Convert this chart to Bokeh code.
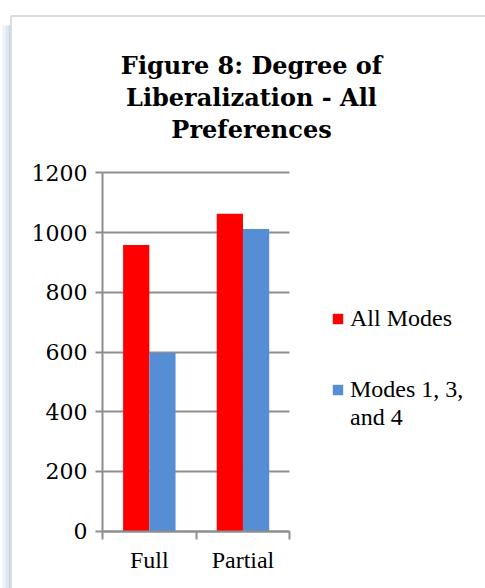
from bokeh.plotting import figure
from bokeh.models import FixedTicker, Label, BoxAnnotation, Legend, LegendItem
from bokeh.embed import file_html
from bokeh.resources import INLINE

categories = ["Full", "Partial"]
series_names = ["All Modes", "Modes 1, 3,", "and 4"]
all_modes = [958, 1063]
modes_134 = [597, 1012]
y_ticks = [0, 200, 400, 600, 800, 1000, 1200]
title_lines = ["Figure 8: Degree of", "Liberalization - All", "Preferences"]

RED = "#FF0000"
BLUE = "#558ED5"
GRID = "#8E8E8E"
LABEL_FONT = "Liberation Serif"

W, H = 485, 588
# pixel layout of the plotting area inside the canvas
AX_L, AX_R = 102.0, 289.3      # x of first / last category boundary
AX_T, AX_B = 172.3, 530.7      # y of top / zero value
ncat = len(categories)
ymax = y_ticks[-1]
sx = (AX_R - AX_L) / ncat
sy = (AX_B - AX_T) / ymax

centers = [i + 0.5 for i in range(ncat)]
bw = 0.28

p = figure(width=W, height=H,
           x_range=(-AX_L / sx, ncat + (W - AX_R) / sx),
           y_range=(-(H - AX_B) / sy, ymax + AX_T / sy),
           output_backend="svg", toolbar_location=None,
           min_border=0, min_border_left=0, min_border_right=0, min_border_top=0, min_border_bottom=0)
p.outline_line_color = None
p.background_fill_color = "white"
p.border_fill_color = "white"

r1 = p.vbar(x=[c - bw / 2 for c in centers], top=all_modes, width=bw, fill_color=RED, line_color=None)
r2 = p.vbar(x=[c + bw / 2 for c in centers], top=modes_134, width=bw, fill_color=BLUE, line_color=None)

# x axis
xa = p.xaxis[0]
xa.fixed_location = 0
xa.bounds = (0, ncat)
xa.ticker = FixedTicker(ticks=centers, minor_ticks=list(range(ncat + 1)))
xa.major_label_overrides = {c: n for c, n in zip(centers, categories)}
xa.major_tick_out = 0
xa.major_tick_in = 0
xa.minor_tick_out = 8
xa.minor_tick_in = 0
xa.minor_tick_line_color = GRID
xa.minor_tick_line_width = 2
xa.axis_line_color = GRID
xa.axis_line_width = 2
xa.major_label_text_font = LABEL_FONT
xa.major_label_text_font_size = "24px"
xa.major_label_text_color = "black"
xa.major_label_standoff = 8
p.xgrid.grid_line_color = None

# y axis
ya = p.yaxis[0]
ya.fixed_location = 0
ya.bounds = (0, ymax)
ya.ticker = FixedTicker(ticks=y_ticks, minor_ticks=[])
ya.major_tick_out = 7
ya.major_tick_in = 0
ya.major_tick_line_color = GRID
ya.major_tick_line_width = 2
ya.axis_line_color = GRID
ya.axis_line_width = 2
ya.major_label_text_font = "DejaVu Serif"
ya.major_label_text_font_size = "22px"
ya.major_label_text_color = "black"
ya.major_label_standoff = 8
p.ygrid.ticker = FixedTicker(ticks=y_ticks, minor_ticks=[])
p.ygrid.bounds = (0, ymax)
p.ygrid.cross_bounds = (0, ncat)
p.ygrid.grid_line_color = GRID
p.ygrid.grid_line_width = 2

# outer chart frame with its soft shadow
for (l, r, c) in [(2, 5, "#eef2f9"), (5, 8, "#dde6f3"), (8, 9.5, "#c6d3e8")]:
    p.add_layout(BoxAnnotation(left=l, right=r, top=H - 25, bottom=-10,
                               left_units="screen", right_units="screen", top_units="screen", bottom_units="screen",
                               fill_color=c, fill_alpha=1, line_color=None))
p.add_layout(BoxAnnotation(left=10.5, right=W + 50, top=H - 15.5, bottom=-50,
                           left_units="screen", right_units="screen", top_units="screen", bottom_units="screen",
                           fill_alpha=0, line_color="#909090", line_width=2))

# title lines
for i, t in enumerate(title_lines):
    p.add_layout(Label(x=251, y=H - (65 + 32 * i), x_units="screen", y_units="screen", text=t,
                       text_font="DejaVu Serif", text_font_style="bold", text_font_size="24px",
                       text_align="center", text_baseline="alphabetic", text_color="black"))

legend_style = dict(glyph_width=13, glyph_height=13,
                    label_text_font=LABEL_FONT, label_text_font_size="24px",
                    label_text_color="black",
                    padding=0, margin=0, border_line_color=None,
                    background_fill_alpha=0, label_standoff=6)
legend1 = Legend(items=[LegendItem(label=series_names[0], renderers=[r1])],
                 location=(331, H - 332), spacing=0, **legend_style)
legend2 = Legend(items=[LegendItem(label=series_names[1], renderers=[r2]),
                        LegendItem(label=series_names[2], renderers=[])],
                 location=(331, H - 431), spacing=1, **legend_style)
p.add_layout(legend1)
p.add_layout(legend2)

open("out.html", "w").write(file_html(p, INLINE))
